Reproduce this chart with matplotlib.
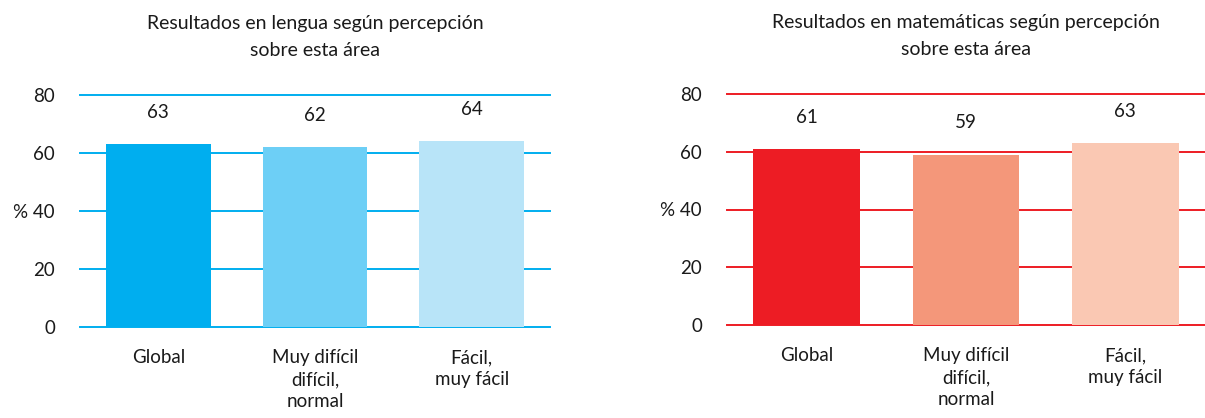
import matplotlib
matplotlib.use("Agg")
import matplotlib.pyplot as plt
import numpy as np

plt.rcParams['font.family'] = ['Lato', 'DejaVu Sans']

categories = ["Global", "Muy difícil\ndifícil,\nnormal", "Fácil,\nmuy fácil"]
lengua = [63, 62, 64]
mates = [61, 59, 63]
yticks = [0, 20, 40, 60, 80]
ytick_labels = ["0", "20", "% 40", "60", "80"]

titles = ["Resultados en lengua según percepción\nsobre esta área",
          "Resultados en matemáticas según percepción\nsobre esta área"]
line_cols = ["#00AEEF", "#ED1C24"]
bar_cols = [["#00AEEF", "#6DCFF6", "#B8E4F8"],
            ["#ED1C24", "#F4977A", "#FAC8B3"]]

fig = plt.figure(figsize=(12.05, 4.18), dpi=100)
# axes positions in pixels (left, right, bottom-y, top-y from top)
boxes = [(80, 550, 327, 95), (727, 1205, 325, 94)]
txt = '#1a1a1a'

for k, (vals, box) in enumerate(zip([lengua, mates], boxes)):
    x0, x1, yb, yt = box
    W, H = 1205., 418.
    ax = fig.add_axes([x0 / W, 1 - yb / H, (x1 - x0) / W, (yb - yt) / H])
    x = np.arange(len(categories))
    ax.bar(x, vals, width=0.67, color=bar_cols[k], zorder=2)
    for yv in yticks:
        ax.axhline(yv, color=line_cols[k], lw=1.4, zorder=1, clip_on=False)
    for xi, v in zip(x, vals):
        ax.text(xi, v + 11, str(v), ha='center', va='center', fontsize=13.5, color=txt)
    ax.set_xlim(-0.5, 2.5)
    ax.set_ylim(0, 80)
    ax.set_yticks(yticks)
    ax.set_yticklabels(ytick_labels, fontsize=13.5, color=txt)
    ax.set_xticks(x)
    ax.set_xticklabels(categories, fontsize=13.5, color=txt, linespacing=1.35, va='top')
    ax.tick_params(axis='both', length=0)
    ax.tick_params(axis='y', pad=18)
    ax.tick_params(axis='x', pad=16)
    for s in ax.spines.values():
        s.set_visible(False)
    ax.set_title(titles[k], fontsize=14, color=txt, pad=28, linespacing=1.75)

fig.savefig("out.png", dpi=100)
